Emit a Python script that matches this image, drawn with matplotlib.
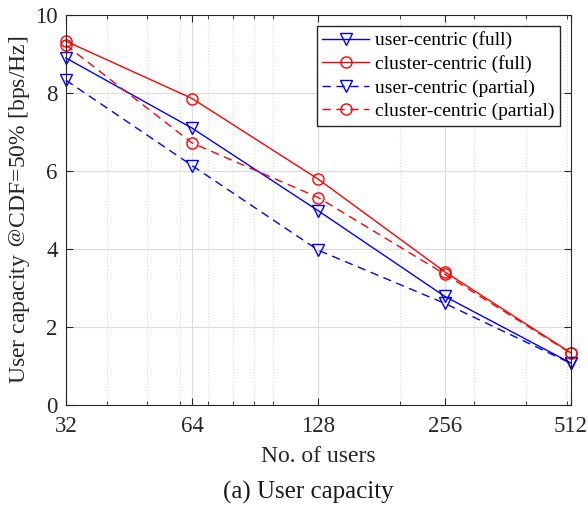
import matplotlib
matplotlib.use('Agg')
import matplotlib.pyplot as plt
from matplotlib.ticker import FixedLocator, LogLocator, NullFormatter

plt.rcParams['font.family'] = ['Liberation Serif', 'DejaVu Serif']
plt.rcParams['mathtext.fontset'] = 'stix'

users = [32, 64, 128, 256, 512]
user_full = [8.9, 7.1, 4.98, 2.79, 1.08]
cluster_full = [9.33, 7.86, 5.79, 3.42, 1.34]
user_partial = [8.33, 6.14, 3.97, 2.61, 1.07]
cluster_partial = [9.23, 6.72, 5.32, 3.36, 1.33]
labels = ['user-centric (full)', 'cluster-centric (full)',
          'user-centric (partial)', 'cluster-centric (partial)']

fig = plt.figure(figsize=(5.88, 5.09), dpi=100)
ax = fig.add_axes([0.112, 0.204, 0.859, 0.7665])

ms = 8
ax.plot(users, user_full, '-', color='#0000ff', lw=1, marker='v', ms=ms,
        mfc='none', mew=1, clip_on=False, label=labels[0])
ax.plot(users, cluster_full, '-', color='#ff0000', lw=1, marker='o', ms=ms,
        mfc='none', mew=1, clip_on=False, label=labels[1])
ax.plot(users, user_partial, '--', color='#0000ff', lw=1, marker='v', ms=ms,
        mfc='none', mew=1, dashes=(6, 4), clip_on=False, label=labels[2])
ax.plot(users, cluster_partial, '--', color='#ff0000', lw=1, marker='o', ms=ms,
        mfc='none', mew=1, dashes=(6, 4), clip_on=False, label=labels[3])

ax.set_xscale('log', base=2)
ax.set_xlim(32, 512)
ax.set_ylim(0, 10)
ax.xaxis.set_major_locator(FixedLocator(users))
ax.set_xticklabels([str(u) for u in users])
ax.xaxis.set_minor_locator(LogLocator(base=10, subs=range(1, 10)))
ax.xaxis.set_minor_formatter(NullFormatter())
ax.set_yticks([0, 2, 4, 6, 8, 10])

ax.grid(True, which='major', color='#dcdcdc', lw=0.8, ls='-')
ax.grid(True, which='minor', axis='x', color='#dcdcdc', lw=0.8, ls=':')
ax.set_axisbelow(True)

ax.tick_params(which='both', direction='in', top=True, right=True,
               labelsize=16.5, colors='#262626')
ax.tick_params(which='major', length=5)
ax.tick_params(which='minor', length=3)
ax.tick_params(axis='x', which='major', pad=8)
ax.tick_params(axis='y', which='major', pad=6)
for s in ax.spines.values():
    s.set_color('#262626')
    s.set_linewidth(0.8)

ax.set_xlabel('No. of users', fontsize=17, color='#262626', labelpad=6)
ax.set_ylabel('User capacity $@$CDF=50% [bps/Hz]', fontsize=17,
              color='#262626', labelpad=2)

leg = ax.legend(loc='upper right', fontsize=14, frameon=True, fancybox=False,
                edgecolor='#262626', framealpha=1, borderpad=0.3,
                handlelength=2.4, handletextpad=0.3, labelspacing=0.3,
                borderaxespad=0.55)
leg.get_frame().set_linewidth(1)

fig.text(0.525, 0.033, '(a) User capacity', ha='center', va='center',
         fontsize=18, color='#1a1a1a')

fig.savefig('out.png', dpi=100)
